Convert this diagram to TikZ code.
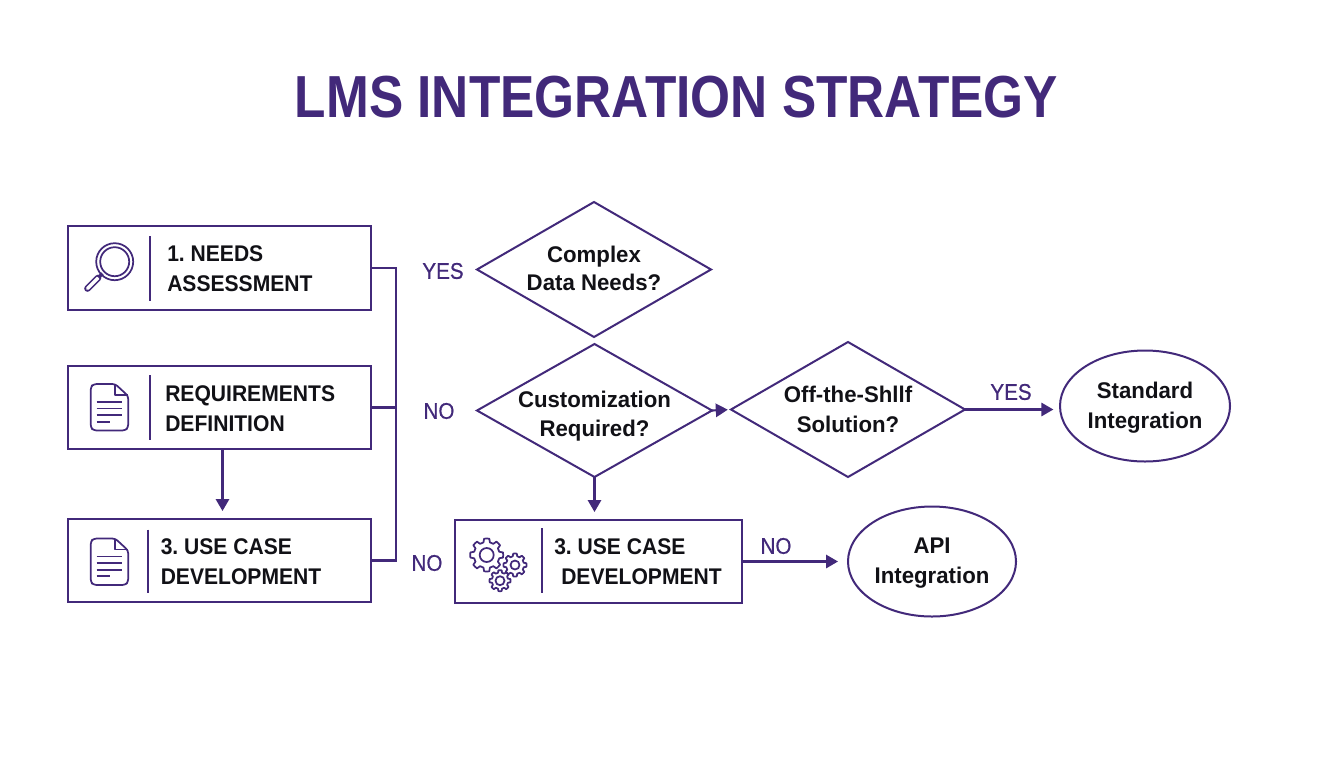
\documentclass[tikz,border=0pt]{standalone}
\usepackage{fontspec}
\setmainfont{Liberation Sans}
\newfontfamily\titlef[FakeStretch=0.866]{Liberation Sans}
\newfontfamily\boxf[FakeStretch=0.93]{Liberation Sans}
\newfontfamily\decf[FakeStretch=0.98]{Liberation Sans}
\newfontfamily\ansf[FakeStretch=0.91,FakeBold=0.6]{Liberation Sans}
\usetikzlibrary{arrows.meta,shapes.geometric,calc}
\definecolor{purp}{HTML}{42297A}
\definecolor{ink}{HTML}{111116}
\frenchspacing
\newcommand{\gearicon}[5]{% x y outer inner teeth
  \draw[icon,line join=round] ($(#1,#2)+(0:#3)$)
  \foreach \k in {1,...,#5}{
    -- ($(#1,#2)+({(\k-1)*360/#5+0.2*360/#5}:#3)$)
    -- ($(#1,#2)+({(\k-1)*360/#5+0.32*360/#5}:#4)$)
    -- ($(#1,#2)+({(\k-1)*360/#5+0.68*360/#5}:#4)$)
    -- ($(#1,#2)+({(\k-1)*360/#5+0.8*360/#5}:#3)$)
    -- ($(#1,#2)+({\k*360/#5}:#3)$)
  } -- cycle;
}
\newcommand{\docicon}[2]{% top-left x,y
  \begin{scope}[shift={(#1,#2)}]
  \draw[icon,line join=round,rounded corners=2.2] (24.5,0) -- (3,0) -- (0,3) -- (0,43.5) -- (3,46.5) -- (34.5,46.5) -- (37.5,43.5) -- (37.5,12) -- cycle;
  \draw[icon,line join=round] (24.5,0) -- (24.5,11) -- (37.5,11);
  \draw[icon] (6,18) -- (31,18) (6,24.6) -- (31,24.6) (6,31.2) -- (31,31.2) (6,37.8) -- (19.5,37.8);
  \end{scope}
}
\newcommand{\dt}[3]{\makebox[0pt]{\raisebox{#1}[0pt][0pt]{\fontsize{17}{#2}\selectfont\begin{tabular}[c]{@{}c@{}}#3\end{tabular}}}}
\tikzset{
  x=0.75pt,y=-0.75pt,
  conn/.style={draw=purp,line width=1.6pt},
  arr/.style={conn,-{Triangle[length=9pt,width=10pt]}},
  box/.style={draw=purp,line width=1.6pt,rectangle,inner sep=0pt,outer sep=0pt},
  dec/.style={draw=purp,line width=1.5pt,diamond,inner sep=0pt,outer sep=0pt,text=ink,font=\decf\bfseries,minimum width=234*0.75pt},
  term/.style={draw=purp,line width=1.5pt,ellipse,inner sep=0pt,outer sep=0pt,text=ink,font=\decf\bfseries},
  lbl/.style={text=ink,font=\fontsize{17}{22.5}\selectfont\boxf\bfseries,align=left,anchor=west,inner sep=0pt},
  ans/.style={text=purp,font=\fontsize{17}{20}\selectfont\ansf,inner sep=0pt},
  icon/.style={draw=purp,line width=1.3pt},
  divd/.style={draw=purp,line width=1.4pt},
}
\begin{document}
\begin{tikzpicture}
\useasboundingbox (0,0) rectangle (1344,768);
\fill[white] (0,0) rectangle (1344,768);
\node[text=purp,font=\fontsize{44.5}{50}\selectfont\titlef\bfseries,inner sep=0pt] (title) at (676.5,97) {LMS INTEGRATION STRATEGY};

% boxes
\node[box,minimum width=303*0.75pt,minimum height=84*0.75pt] (b1) at (219.5,268) {};
\node[box,minimum width=303*0.75pt,minimum height=83*0.75pt] (b2) at (219.5,407.5) {};
\node[box,minimum width=303*0.75pt,minimum height=83*0.75pt] (b3) at (219.5,560.5) {};
\node[box,minimum width=287*0.75pt,minimum height=83*0.75pt] (b4) at (598.5,561.5) {};
\node[lbl] (t1) at (167,269) {1. NEEDS\\ASSESSMENT};
\node[lbl] (t2) at (165,408.5) {REQUIREMENTS\\DEFINITION};
\node[lbl] (t3) at (160.5,561.5) {3. USE CASE\\DEVELOPMENT};
\node[lbl] (t4) at (554,562) {3. USE CASE\\\hspace*{5.25pt}DEVELOPMENT};

% dividers
\draw[divd] (150,236) -- (150,300.5);
\draw[divd] (149.7,375) -- (149.7,440);
\draw[divd] (148,529.5) -- (148,592.5);
\draw[divd] (541.7,528) -- (541.7,593);

% icons
\draw[icon] (114.7,261.7) circle (18.5);
\draw[icon] (114.7,261.7) circle (14.5);
\draw[draw=purp,line width=1.2pt,double=white,double distance=2.6pt,line cap=round] (87.5,288.5) -- (98,278);
\draw[draw=purp,line width=2.6pt] (98.5,277.5) -- (102.5,273.5);
\docicon{90.7}{384}
\docicon{90.7}{538.5}
\gearicon{486.7}{555}{16.5}{13}{8}
\draw[icon] (486.7,555) circle (7);
\gearicon{515}{565}{11.5}{9}{8}
\draw[icon] (515,565) circle (4.5);
\gearicon{500}{580.7}{10.5}{8.2}{8}
\draw[icon] (500,580.7) circle (4.5);

% decisions
\node[dec,minimum height=135*0.75pt] (d1) at (594,269.5) {\dt{-5.2pt}{21pt}{Complex\\Data Needs?}};
\node[dec,minimum height=133*0.75pt,minimum width=235*0.75pt] (d2) at (594.5,410.5) {\dt{-8.4pt}{21.75pt}{Customization\\Required?}};
\node[dec,minimum height=135*0.75pt] (d3) at (848,409.5) {\dt{-5.7pt}{22.5pt}{Off-the-Shllf\\Solution?}};

% terminals
\node[term,minimum width=170*0.75pt,minimum height=111*0.75pt] (e1) at (1145,406) {\dt{-5.3pt}{22.5pt}{Standard\\Integration}};
\node[term,minimum width=168*0.75pt,minimum height=110*0.75pt] (e2) at (932,561.5) {\dt{-5pt}{22.5pt}{API\\Integration}};

% connectors
\coordinate (bus) at (396,268);
\coordinate (drop) at ($(b2.south)+(3,0)$);
\draw[conn] (b1.east) -- (bus) -- (bus |- b3.east) -- (b3.east);
\draw[conn] (b2.east) -- (b2.east -| bus);
\draw[arr,shorten >=6pt] (drop) -- (drop |- b3.north);
\draw[arr,shorten >=6pt] (d2.south) -- (d2.south |- b4.north);
\draw[arr,shorten >=2.4pt] (d2.east) -- (d3.west);
\draw[arr,shorten >=5pt] (d3.east) -- (d3.east -| e1.west);
\draw[arr,shorten >=7.5pt] (b4.east) -- (b4.east -| e2.west);

% answers
\node[ans] (a1) at (443,271) {YES};
\node[ans] (a2) at (439,411) {NO};
\node[ans] (a3) at (427,563) {NO};
\node[ans] (a4) at (776,546) {NO};
\node[ans] (a5) at (1011,392) {YES};
\end{tikzpicture}
\end{document}
